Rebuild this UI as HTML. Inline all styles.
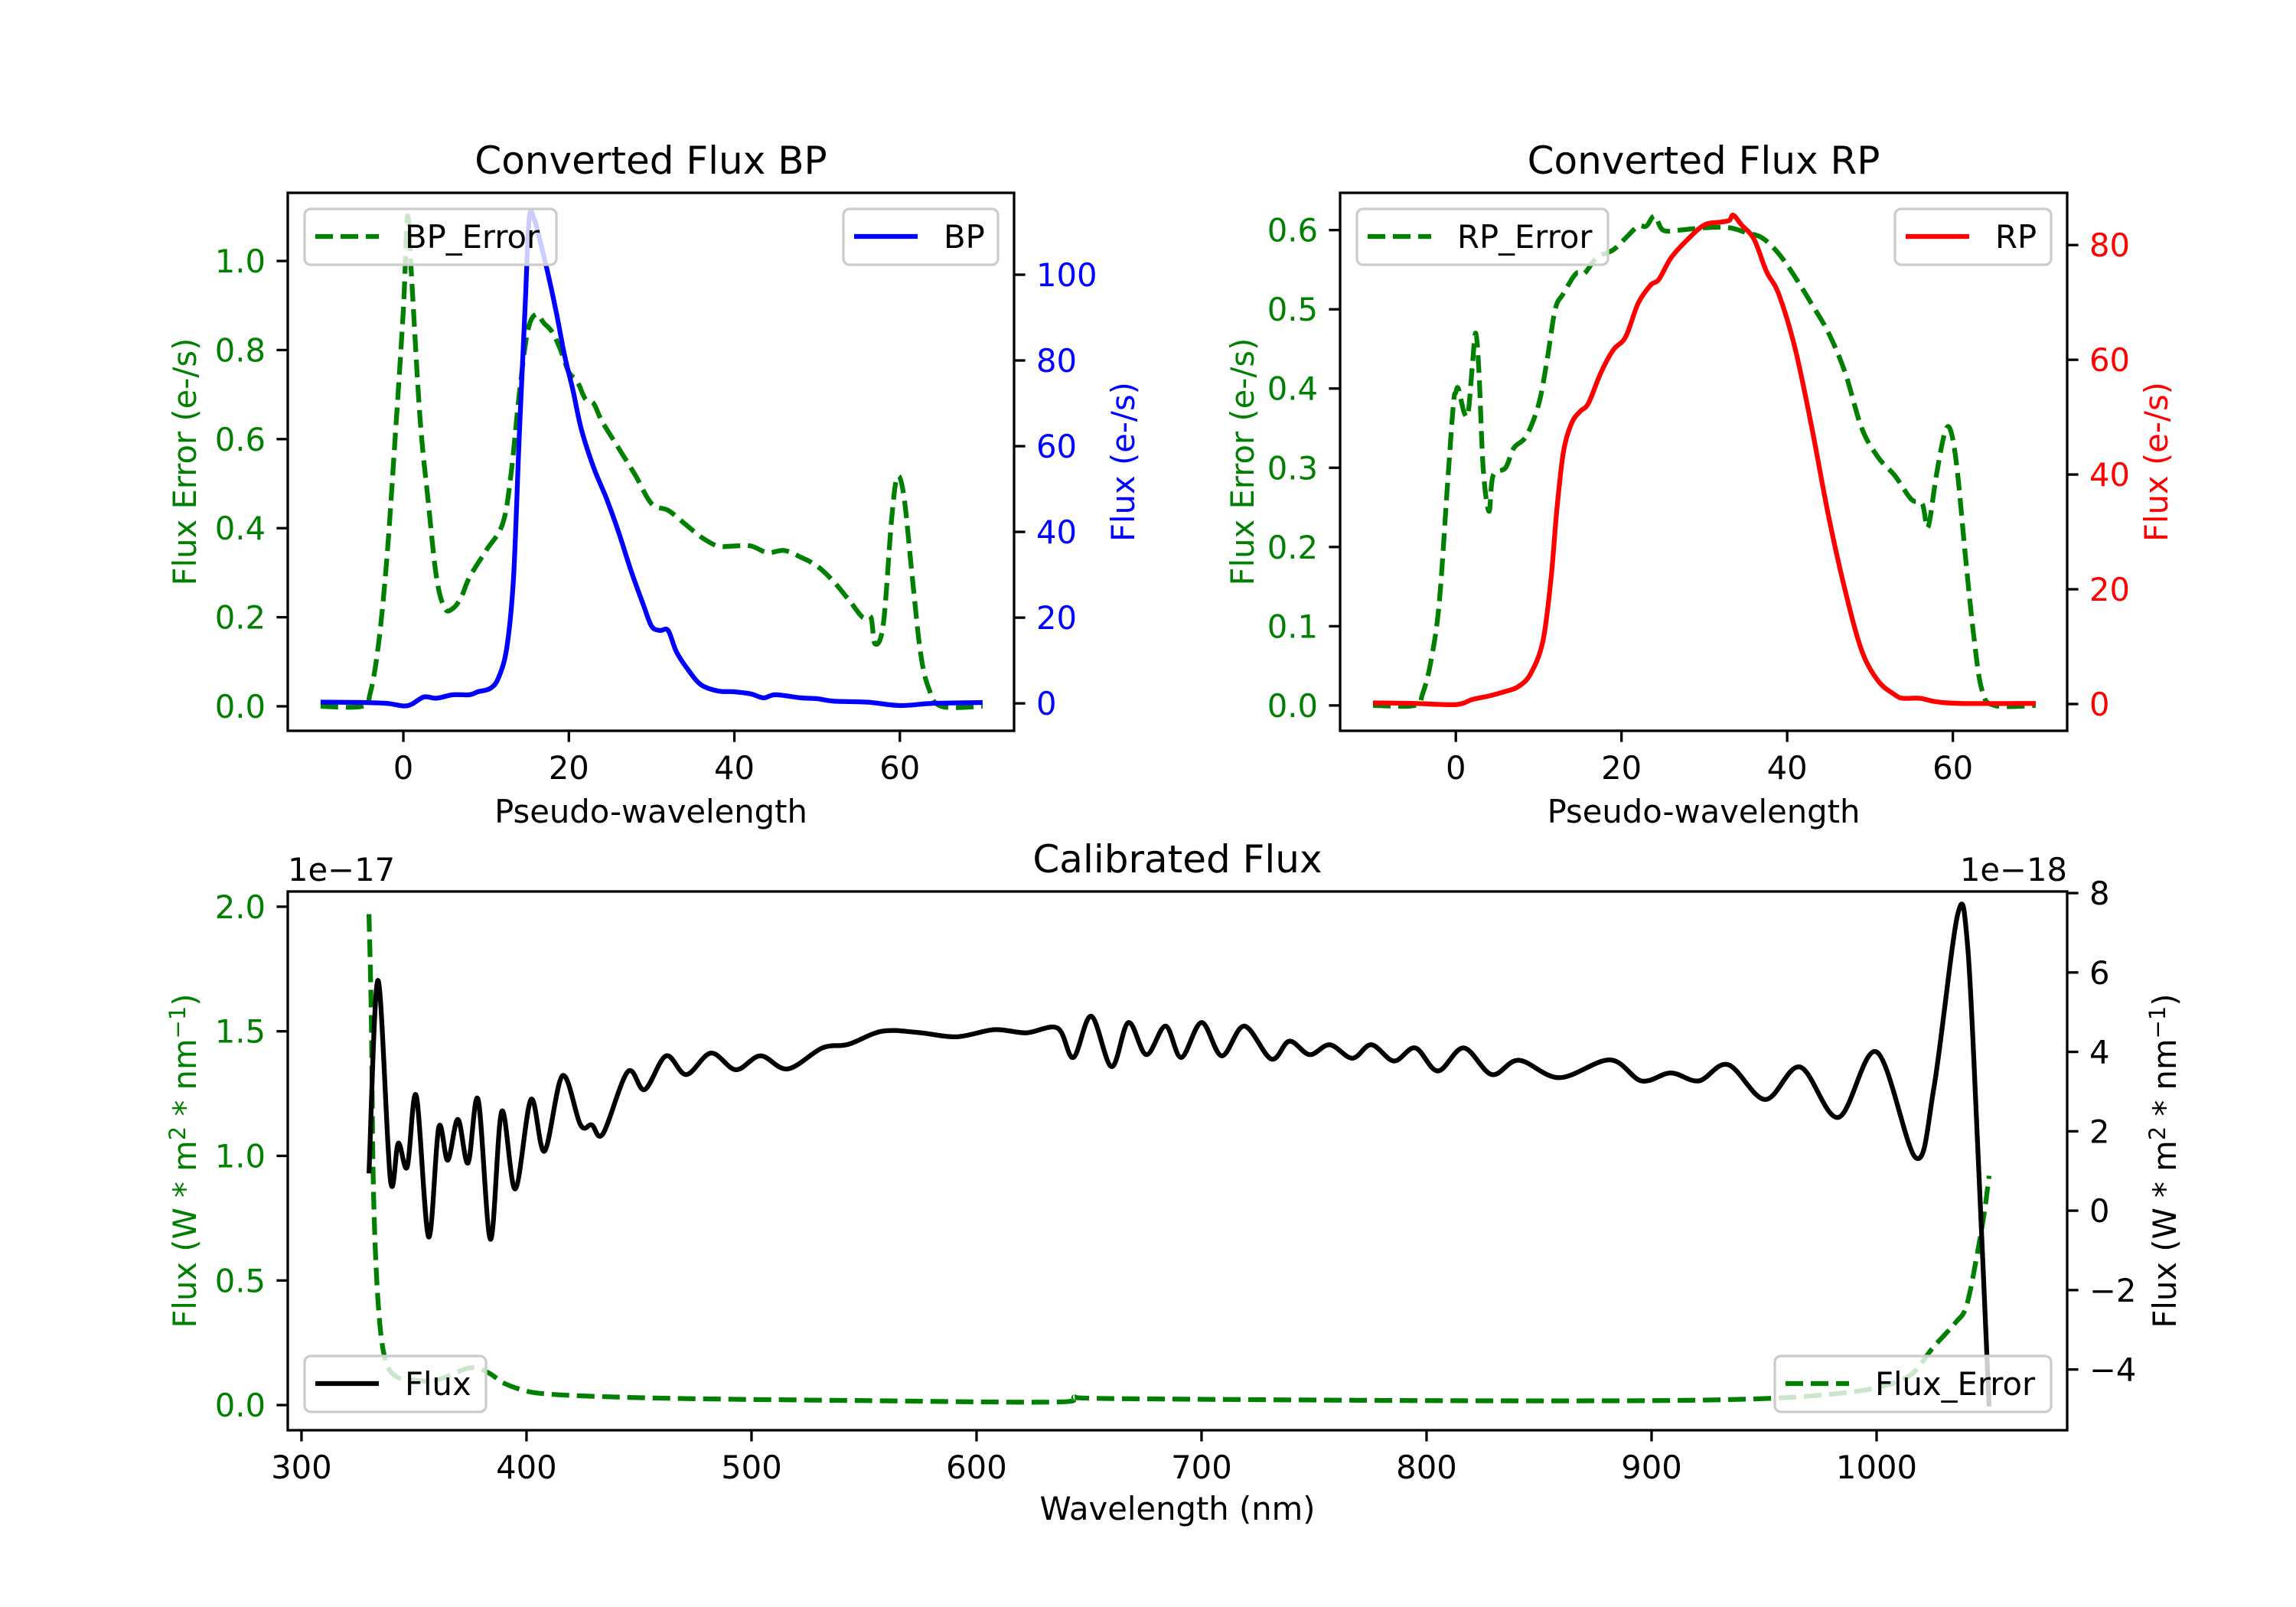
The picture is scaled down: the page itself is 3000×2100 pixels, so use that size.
<!DOCTYPE html>
<html><head><meta charset="utf-8">
<style>
html,body{margin:0;padding:0;background:#fff;}
svg{display:block;font-family:"DejaVu Sans","Liberation Sans",sans-serif;}
</style></head>
<body>
<svg id="fig" width="3000" height="2100" viewBox="0 0 3000 2100" xmlns="http://www.w3.org/2000/svg"></svg>
<script>
// ---- Data: BP panel ----
const bpErrX = [-10,-5,-4,-3,-2,-1,0,0.5,1,2,3,4,5,6,7,8,10,12,13,14,15,16,17,18,19,20,21,22,23,24,26,28,30,32,34,36,38,40,42,44,46,48,50,52,54,55.5,56.5,57,58,59,59.7,60.5,61.5,62.5,63.5,65,70];
const bpErrY = [0,0,0.03,0.14,0.33,0.6,0.89,1.10,0.96,0.65,0.46,0.29,0.22,0.22,0.245,0.29,0.35,0.41,0.52,0.70,0.84,0.88,0.86,0.84,0.80,0.75,0.73,0.69,0.68,0.64,0.58,0.52,0.455,0.44,0.41,0.38,0.36,0.36,0.36,0.345,0.35,0.335,0.315,0.28,0.235,0.20,0.20,0.14,0.185,0.42,0.515,0.47,0.29,0.12,0.04,0,0];
const bpX = [-10,-5,-2,0,1,2.5,4,6,8,9,10.5,11.5,12.5,13.3,14,14.7,15.2,15.8,16.5,17.5,18.5,19.5,20.5,21.5,23,24.5,26,27.5,29,30,31,32,33,34.5,36,38,40,42,43.5,45,48,50,52,56,60,64,70];
const bpY = [0.3,0.2,0,-0.6,-0.2,1.5,1.2,2,2,2.7,3.5,6,13,29,62,92,113,113,108,100,91,81,73,64,55,48,40,31,23,18,17,17,12,7.6,4.3,2.9,2.7,2.2,1.3,2,1.3,1.1,0.5,0.3,-0.5,0,0.2];
// ---- Data: RP panel ----
const rpErrX = [-10,-5,-4,-3,-2,-1,-0.3,0,0.3,1,1.5,2,2.4,2.8,3.3,4,4.5,6,7,8.5,10,11,12,13,14.5,15.5,17,19,20.5,22,23,24,25,27,30,33,35,37,39,41,43,45,47,49,51,53,55,56.3,57,58,59,59.7,60.5,61.5,62.5,63.5,65,70];
const rpErrY = [0,0,0.015,0.056,0.13,0.28,0.38,0.395,0.40,0.37,0.37,0.43,0.47,0.42,0.30,0.245,0.29,0.30,0.325,0.34,0.38,0.435,0.50,0.52,0.545,0.545,0.565,0.575,0.59,0.605,0.605,0.618,0.60,0.60,0.603,0.603,0.597,0.59,0.57,0.54,0.506,0.47,0.42,0.35,0.313,0.29,0.26,0.255,0.225,0.29,0.343,0.348,0.30,0.19,0.09,0.02,0,0];
const rpX = [-10,-5,0,2,4,6,7.5,9,10.5,11.5,12.2,13,14,15,16,17.5,19,20.5,22,23.5,24.5,26,28,30,32,33,33.5,34.5,36,37.5,39,41,43,45,47,49,51,53,54,56,58,61,70];
const rpY = [0.2,0.1,-0.1,0.8,1.4,2.2,3,5.2,10.9,22,34,44,49,51,52.4,57.7,61.7,64,69.8,73,74,77.8,81,83.5,84,84.3,85.2,83.5,81,75.4,71.4,61.7,48,32.7,19.8,9.3,4,1.6,1,1,0.4,0.1,0.1];
// ---- Data: Calibrated flux ----
const calX = [330,334,339.5,343,347,351,356.5,361,365,369.5,374,378.5,384,389,395,402,408,416,424,429,434,445,452.5,462,471,482,493,504,516,531.5,543,558,574,591,608,622,636,643,651,660,667.5,675.5,684,691,700,709,719,731,739,748,757,767,775.5,785.5,795,805,816.5,829,841,859,881.5,895.5,908.5,921,934,950.5,966,983,1000,1017.5,1025.5,1036,1040.5,1045,1050];
const calFlux = [0.94,5.8,0.78,1.7,1.1,2.9,-0.66,2.1,1.27,2.3,1.2,2.8,-0.72,2.5,0.55,2.8,1.5,3.4,2.16,2.16,1.94,3.5,3.05,3.9,3.43,3.97,3.55,3.9,3.57,4.1,4.19,4.52,4.49,4.38,4.56,4.48,4.6,3.86,4.9,3.63,4.74,3.93,4.65,3.86,4.74,3.9,4.65,3.82,4.27,3.93,4.18,3.84,4.18,3.77,4.1,3.52,4.1,3.43,3.79,3.35,3.8,3.27,3.47,3.27,3.68,2.8,3.62,2.35,4.0,1.33,3.1,7.45,6.65,1.55,-4.93];
const errX = [330,331,332,334,337,342,350,360,375,383,390,400,410,430,470,550,635,643,660,800,900,950,980,1000,1015,1025,1035,1040,1045,1048,1050];
const errY = [1.97,1.57,0.86,0.42,0.19,0.115,0.10,0.10,0.15,0.13,0.088,0.056,0.044,0.035,0.026,0.018,0.012,0.032,0.026,0.018,0.018,0.026,0.044,0.07,0.12,0.23,0.33,0.40,0.62,0.78,0.92];
// ---- Tick arrays ----
const pxTicks = [0,20,40,60];
const bpErrTicks = [0,0.2,0.4,0.6,0.8,1.0];
const bpTicks = [0,20,40,60,80,100];
const rpErrTicks = [0,0.1,0.2,0.3,0.4,0.5,0.6];
const rpTicks = [0,20,40,60,80];
const wlTicks = [300,400,500,600,700,800,900,1000];
const calErrTicks = [0,0.5,1.0,1.5,2.0];
const calFluxTicks = [-4,-2,0,2,4,6,8];

const NS="http://www.w3.org/2000/svg";
const svg=document.getElementById('fig');
function mk(tag,attrs,parent){const e=document.createElementNS(NS,tag);for(const k in attrs)e.setAttribute(k,attrs[k]);(parent||svg).appendChild(e);return e;}
function txt(s,attrs,parent){const e=mk('text',attrs,parent);e.textContent=s;return e;}
function lin(d0,d1,p0,p1){return v=>p0+(v-d0)*(p1-p0)/(d1-d0);}
function smooth(pts){
  let d=`M${pts[0][0].toFixed(1)},${pts[0][1].toFixed(1)}`;
  for(let i=0;i<pts.length-1;i++){
    const p0=pts[Math.max(0,i-1)],p1=pts[i],p2=pts[i+1],p3=pts[Math.min(pts.length-1,i+2)];
    const c1x=p1[0]+(p2[0]-p0[0])/6,c1y=p1[1]+(p2[1]-p0[1])/6;
    const c2x=p2[0]-(p3[0]-p1[0])/6,c2y=p2[1]-(p3[1]-p1[1])/6;
    d+=`C${c1x.toFixed(1)},${c1y.toFixed(1)} ${c2x.toFixed(1)},${c2y.toFixed(1)} ${p2[0].toFixed(1)},${p2[1].toFixed(1)}`;
  }
  return d;
}
const FS=41.7, GREEN='#008000';
function fmt(v,dec){let s=v.toFixed(dec);return s.replace('-','\u2212');}

function panel(o){
  const g=mk('g',{});
  
  
  const {L,R,T,B}=o;
  const sx=lin(o.xlim[0],o.xlim[1],L,R);
  const syL=lin(o.ylL[0],o.ylL[1],B,T);
  const syR=lin(o.ylR[0],o.ylR[1],B,T);
  const cp='cp'+o.name;
  const defs=mk('defs',{},g);const c=mk('clipPath',{id:cp},defs);mk('rect',{x:L,y:T,width:R-L,height:B-T},c);
  o.series.forEach(s=>{
    const sy=s.axis==='L'?syL:syR;
    const pts=s.x.map((xv,i)=>[sx(xv),sy(s.y[i])]);
    const p=mk('path',{d:smooth(pts),fill:'none',stroke:s.color,'stroke-width':6.25,'stroke-dasharray':s.dash?'23 10':'none','stroke-linejoin':'round','clip-path':`url(#${cp})`},g);
    
    
  });
  const fr=mk('rect',{x:L,y:T,width:R-L,height:B-T,fill:'none',stroke:'#000','stroke-width':3.3},g);
  
  
  o.xt.forEach(v=>{const x=sx(v);mk('line',{x1:x,x2:x,y1:B,y2:B+14.6,stroke:'#000','stroke-width':3.3},g);
    const t=txt(String(v),{x:x,y:B+63,'font-size':FS,'text-anchor':'middle',fill:'#000'},g);
    
    });
  o.ytL.forEach(v=>{const y=syL(v);mk('line',{x1:L-14.6,x2:L,y1:y,y2:y,stroke:'#000','stroke-width':3.3},g);
    const t=txt(fmt(v,o.decL),{x:L-29,y:y+15,'font-size':FS,'text-anchor':'end',fill:o.colL},g);
    
    });
  o.ytR.forEach(v=>{const y=syR(v);mk('line',{x1:R,x2:R+14.6,y1:y,y2:y,stroke:'#000','stroke-width':3.3},g);
    const t=txt(fmt(v,o.decR),{x:R+29,y:y+15,'font-size':FS,'text-anchor':'start',fill:o.colR},g);
    
    });
  const ti=txt(o.title,{x:(L+R)/2,y:T-25,'font-size':50,'text-anchor':'middle',fill:'#000'},g);
  
  
  const xl=txt(o.xlabel,{x:(L+R)/2,y:o.xlabY,'font-size':FS,'text-anchor':'middle',fill:'#000'},g);
  
  
  const yl=txt('',{x:0,y:0,'font-size':FS,'text-anchor':'middle',fill:o.colLabL,transform:`translate(${o.ylabLx},${(T+B)/2}) rotate(-90)`},g);
  yl.innerHTML=o.ylabL;
  
  
  const yr=txt('',{x:0,y:0,'font-size':FS,'text-anchor':'middle',fill:o.colLabR,transform:`translate(${o.ylabRx},${(T+B)/2}) rotate(-90)`},g);
  yr.innerHTML=o.ylabR;
  
  
  if(o.offL){const t=txt(o.offL,{x:L,y:T-14,'font-size':FS,'text-anchor':'start',fill:'#000'},g);
    
    }
  if(o.offR){const t=txt(o.offR,{x:R,y:T-14,'font-size':FS,'text-anchor':'end',fill:'#000'},g);
    
    }
  o.legends.forEach(lg=>{
    const lgG=mk('g',{},g);
    
    
    mk('rect',{x:lg.x,y:lg.y,width:lg.w,height:73,rx:8,fill:'rgba(255,255,255,0.8)',stroke:'#cccccc','stroke-width':3.3},lgG);
    mk('line',{x1:lg.x+14,x2:lg.x+97,y1:lg.y+36,y2:lg.y+36,stroke:lg.color,'stroke-width':6.25,'stroke-dasharray':lg.dash?'23 10':'none'},lgG);
    txt(lg.label,{x:lg.x+131,y:lg.y+51,'font-size':FS,fill:'#000'},lgG);
  });
}

panel({name:'bp-panel',L:376,R:1325,T:252,B:955,xlim:[-13.97,73.8],ylL:[-0.055,1.153],ylR:[-6.4,119.1],
  xt:pxTicks,ytL:bpErrTicks,ytR:bpTicks,decL:1,decR:0,colL:GREEN,colR:'#0000ff',
  title:'Converted Flux BP',xlabel:'Pseudo-wavelength',xlabY:1075,
  ylabL:'Flux Error (e-/s)',ylabLx:256,colLabL:GREEN,ylabR:'Flux (e-/s)',ylabRx:1482,colLabR:'#0000ff',
  series:[{name:'bp-error-line',x:bpErrX,y:bpErrY,axis:'L',color:GREEN,dash:true},
          {name:'bp-flux-line',x:bpX,y:bpY,axis:'R',color:'#0000ff',dash:false}],
  legends:[{name:'legend-bp-error',x:398,y:273,w:329,label:'BP_Error',color:GREEN,dash:true},
           {name:'legend-bp',x:1102,y:273,w:202,label:'BP',color:'#0000ff',dash:false}]});

panel({name:'rp-panel',L:1751,R:2701,T:252,B:955,xlim:[-13.97,73.8],ylL:[-0.032,0.647],ylR:[-4.67,89.1],
  xt:pxTicks,ytL:rpErrTicks,ytR:rpTicks,decL:1,decR:0,colL:GREEN,colR:'#ff0000',
  title:'Converted Flux RP',xlabel:'Pseudo-wavelength',xlabY:1075,
  ylabL:'Flux Error (e-/s)',ylabLx:1638,colLabL:GREEN,ylabR:'Flux (e-/s)',ylabRx:2832,colLabR:'#ff0000',
  series:[{name:'rp-error-line',x:rpErrX,y:rpErrY,axis:'L',color:GREEN,dash:true},
          {name:'rp-flux-line',x:rpX,y:rpY,axis:'R',color:'#ff0000',dash:false}],
  legends:[{name:'legend-rp-error',x:1773,y:273,w:328,label:'RP_Error',color:GREEN,dash:true},
           {name:'legend-rp',x:2476,y:273,w:204,label:'RP',color:'#ff0000',dash:false}]});

panel({name:'calibrated-panel',L:376,R:2701,T:1165,B:1869,xlim:[293.9,1084.7],ylL:[-0.101,2.061],ylR:[-5.53,8.04],
  xt:wlTicks,ytL:calErrTicks,ytR:calFluxTicks,decL:1,decR:0,colL:GREEN,colR:'#000',
  title:'Calibrated Flux',xlabel:'Wavelength (nm)',xlabY:1986,
  ylabL:'Flux (W * m<tspan dy="-14" font-size="29">2</tspan><tspan dy="14"> * nm</tspan><tspan dy="-14" font-size="29">\u22121</tspan><tspan dy="14">)</tspan>',ylabLx:256,colLabL:GREEN,
  ylabR:'Flux (W * m<tspan dy="-14" font-size="29">2</tspan><tspan dy="14"> * nm</tspan><tspan dy="-14" font-size="29">\u22121</tspan><tspan dy="14">)</tspan>',ylabRx:2843,colLabR:'#000',
  offL:'1e\u221217',offR:'1e\u221218',
  series:[{name:'flux-error-line',x:errX,y:errY,axis:'L',color:GREEN,dash:true},
          {name:'flux-line',x:calX,y:calFlux,axis:'R',color:'#000',dash:false}],
  legends:[{name:'legend-flux',x:398,y:1772,w:237,label:'Flux',color:'#000',dash:false},
           {name:'legend-flux-error',x:2319,y:1772,w:361,label:'Flux_Error',color:GREEN,dash:true}]});
</script>
</body></html>
